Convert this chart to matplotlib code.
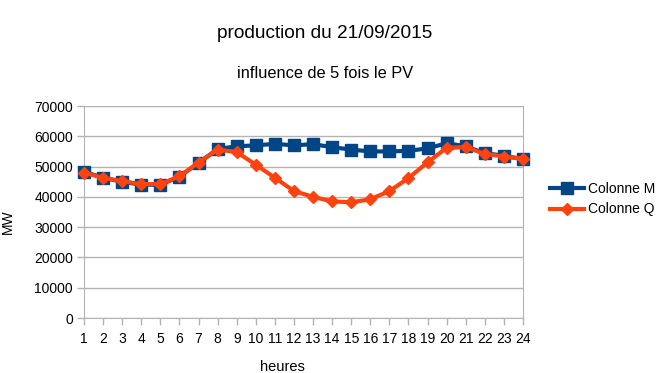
import matplotlib
matplotlib.use("Agg")
import matplotlib.pyplot as plt

plt.rcParams["font.family"] = ["Liberation Sans", "DejaVu Sans"]

# ─── DONNÉES ──────────────────────────────────────────────────────────────────
heures = list(range(1, 25))
colonne_m = [48300, 46300, 45000, 44000, 44000, 46700, 51200, 55800, 56700, 57000,
             57500, 57000, 57400, 56400, 55600, 55000, 55000, 55200, 56000, 57700,
             56700, 54400, 53600, 52400]
colonne_q = [48000, 46300, 45200, 44200, 44200, 46800, 51300, 55600, 54800, 50600,
             46300, 41900, 40000, 38500, 38200, 39200, 41900, 46200, 51400, 56200,
             56400, 54200, 53300, 52600]
y_ticks = list(range(0, 70001, 10000))

# ─── FIGURE ───────────────────────────────────────────────────────────────────
fig = plt.figure(figsize=(6.63, 3.73), dpi=100)
ax = fig.add_axes([84/663, 1 - 318/373, (523 - 84)/663, (318 - 106)/373])

ax.plot(heures, colonne_m, color="#004586", lw=3, marker="s", ms=8,
        label="Colonne M", zorder=3, clip_on=False)
ax.plot(heures, colonne_q, color="#ff420e", lw=3, marker="D", ms=6,
        label="Colonne Q", zorder=4, clip_on=False)

ax.set_xlim(1, 24)
ax.set_ylim(0, 70000)
ax.set_xticks(heures)
ax.set_yticks(y_ticks)
ax.tick_params(labelsize=10, length=5, width=1, color="#b3b3b3", pad=3)
ax.tick_params(axis="x", pad=5)
ax.grid(axis="y", color="#b3b3b3", lw=1)
ax.set_axisbelow(True)
for s in ax.spines.values():
    s.set_color("#b3b3b3")
ax.spines["top"].set_visible(False)

fig.text(325/663, 1 - 33/373, "production du 21/09/2015", ha="center", va="center",
         fontsize=13.7)
fig.text(325/663, 1 - 74/373, "influence de 5 fois le PV", ha="center", va="center",
         fontsize=11.8)
fig.text(8/663, 1 - 222/373, "MW", ha="center", va="center", rotation=90, fontsize=10)
fig.text(282/663, 1 - 367/373, "heures", ha="center", va="center", fontsize=10.5)

fig.legend(loc="center left", bbox_to_anchor=(544/663, 1 - 199/373), frameon=False,
           fontsize=10, handlelength=2.5, handletextpad=0.3, labelspacing=0.5,
           borderaxespad=0)

plt.savefig("out.png", dpi=100)
plt.close()
